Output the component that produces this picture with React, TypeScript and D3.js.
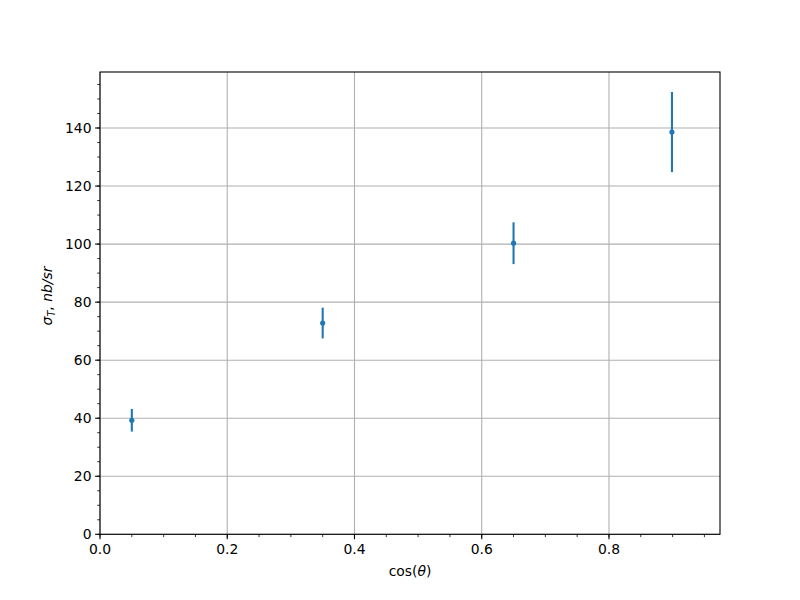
import React from "react";
import * as d3 from "d3";

const xValues = [0.05, 0.35, 0.65, 0.899];
const yValues = [39.3, 72.8, 100.3, 138.6];
const yErrors = [3.9, 5.3, 7.2, 13.8];
const xTicks = [0, 0.2, 0.4, 0.6, 0.8];
const yTicks = [0, 20, 40, 60, 80, 100, 120, 140];
const xMinorTicks = d3.range(0, 0.97, 0.05);
const yMinorTicks = d3.range(0, 160, 5);

const W = 800, H = 600;
const L = 100, R = 720, T = 72, B = 534.3;

export default function App() {
  const x = d3.scaleLinear().domain([0, 0.9745]).range([L, R]);
  const y = d3.scaleLinear().domain([0, 159.3]).range([B, T]);
  const font = "DejaVu Sans, sans-serif";
  const color = "#1f77b4";
  return (
    <svg width={W} height={H} style={{ position: "absolute", left: 0, top: 0 }} fontFamily={font}>
      <rect x={0} y={0} width={W} height={H} fill="white" />
      {/* grid */}
      {xTicks.map((t) => (
        <line key={"gx" + t} x1={x(t)} x2={x(t)} y1={T} y2={B} stroke="#b0b0b0" strokeWidth={1.1} />
      ))}
      {yTicks.map((t) => (
        <line key={"gy" + t} x1={L} x2={R} y1={y(t)} y2={y(t)} stroke="#b0b0b0" strokeWidth={1.1} />
      ))}
      {/* error bars */}
      {xValues.map((v, i) => (
        <line key={"e" + i} x1={x(v)} x2={x(v)} y1={y(yValues[i] - yErrors[i])} y2={y(yValues[i] + yErrors[i])} stroke={color} strokeWidth={2.1} />
      ))}
      {xValues.map((v, i) => (
        <circle key={"p" + i} cx={x(v)} cy={y(yValues[i])} r={2.6} fill={color} />
      ))}
      {/* axes frame */}
      <rect x={L} y={T} width={R - L} height={B - T} fill="none" stroke="black" strokeWidth={1.1} />
      {/* x ticks */}
      {xMinorTicks.filter((t) => x(t) <= R + 0.5).map((t) => (
        <line key={"mx" + t} x1={x(t)} x2={x(t)} y1={B} y2={B + 2.8} stroke="black" strokeWidth={0.8} />
      ))}
      {xTicks.map((t) => (
        <g key={"tx" + t}>
          <line x1={x(t)} x2={x(t)} y1={B} y2={B + 4.9} stroke="black" strokeWidth={1.1} />
          <text x={x(t)} y={B + 19.5} textAnchor="middle" fontSize={13.9} fill="black">{t.toFixed(1)}</text>
        </g>
      ))}
      {/* y ticks */}
      {yMinorTicks.map((t) => (
        <line key={"my" + t} x1={L - 2.8} x2={L} y1={y(t)} y2={y(t)} stroke="black" strokeWidth={0.8} />
      ))}
      {yTicks.map((t) => (
        <g key={"ty" + t}>
          <line x1={L - 4.9} x2={L} y1={y(t)} y2={y(t)} stroke="black" strokeWidth={1.1} />
          <text x={L - 8.5} y={y(t) + 5} textAnchor="end" fontSize={13.9} fill="black">{t}</text>
        </g>
      ))}
      {/* labels */}
      <text x={(L + R) / 2} y={576} textAnchor="middle" fontSize={13.9} fill="black">
        cos(<tspan fontStyle="italic">θ</tspan>)
      </text>
      <text transform={`translate(52, 296) rotate(-90)`} textAnchor="middle" fontSize={13.9} fill="black" fontStyle="italic">
        σ<tspan fontSize={9.7} dy={2.5}>T</tspan><tspan dy={-2.5} fontStyle="normal">, </tspan><tspan>nb/sr</tspan>
      </text>
    </svg>
  );
}
